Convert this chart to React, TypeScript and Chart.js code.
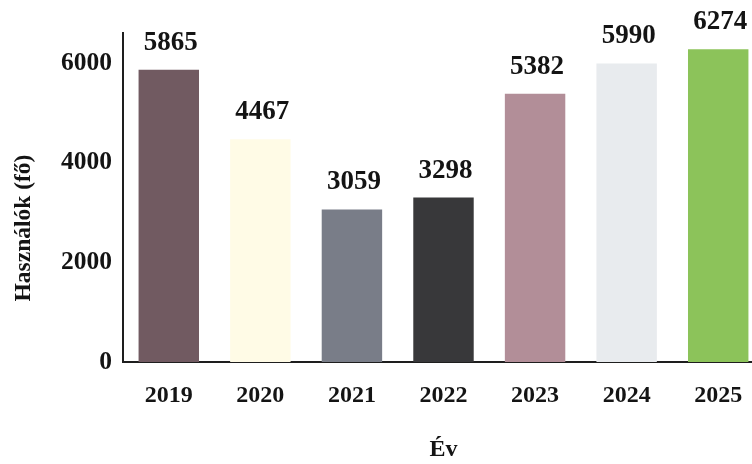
import React, { useEffect, useRef } from "react";
import { Chart, registerables } from "chart.js";

Chart.register(...registerables);

const years = ["2019", "2020", "2021", "2022", "2023", "2024", "2025"];
const users = [5865, 4467, 3059, 3298, 5382, 5990, 6274];
const barColors = ["#715a61", "#fffbe6", "#797d88", "#38383a", "#b28e98", "#e8ebee", "#8cc35a"];
const yTickValues = [0, 2000, 4000, 6000];
const yAxisTitle = "Használók (fő)";
const xAxisTitle = "Év";

const FONT = '"Liberation Serif", "Times New Roman", serif';

const valueLabels = {
  id: "valueLabels",
  afterDatasetsDraw(chart: any) {
    const ctx = chart.ctx;
    const meta = chart.getDatasetMeta(0);
    ctx.save();
    ctx.font = `bold 27px ${FONT}`;
    ctx.fillStyle = "#141414";
    ctx.textAlign = "center";
    ctx.textBaseline = "middle";
    meta.data.forEach((bar: any, i: number) => {
      ctx.fillText(String(users[i]), bar.x + 2, bar.y - 27);
    });
    ctx.restore();
  },
};

const yTitlePlugin = {
  id: "yTitlePlugin",
  afterDraw(chart: any) {
    const ctx = chart.ctx;
    const area = chart.chartArea;
    ctx.save();
    ctx.translate(24, area.bottom - 134);
    ctx.rotate(-Math.PI / 2);
    ctx.font = `bold 23.5px ${FONT}`;
    ctx.fillStyle = "#141414";
    ctx.textAlign = "center";
    ctx.textBaseline = "middle";
    ctx.fillText(yAxisTitle, 0, 0);
    ctx.restore();
  },
};

export default function App() {
  const canvasRef = useRef<HTMLCanvasElement | null>(null);

  useEffect(() => {
    if (!canvasRef.current) return;
    const chart = new Chart(canvasRef.current, {
      type: "bar",
      data: {
        labels: years,
        datasets: [
          {
            data: users,
            backgroundColor: barColors,
            borderWidth: 0,
            barPercentage: 0.66,
            categoryPercentage: 1,
          },
        ],
      },
      options: {
        responsive: false,
        animation: false,
        layout: { padding: { top: 33, left: 0, right: 0, bottom: 0 } },
        plugins: {
          legend: { display: false },
          tooltip: { enabled: false },
          title: { display: false },
        },
        scales: {
          x: {
            grid: { display: false, drawTicks: false },
            border: { display: true, color: "#1e1e1e", width: 2 },
            ticks: {
              color: "#141414",
              padding: 19,
              font: { family: FONT, size: 24, weight: "bold" },
            },
            title: {
              display: true,
              text: xAxisTitle,
              color: "#141414",
              padding: { top: 0, bottom: 0 },
              font: { family: FONT, size: 24, weight: "bold" },
            },
            afterFit(scale: any) {
              scale.height = 102;
            },
          },
          y: {
            min: 0,
            max: 6600,
            grid: { display: false, drawTicks: false },
            border: { display: true, color: "#1e1e1e", width: 2 },
            ticks: {
              color: "#141414",
              padding: 11,
              font: { family: FONT, size: 25.5, weight: "bold" },
              callback: (v: any) => String(v),
            },
            afterBuildTicks(scale: any) {
              scale.ticks = yTickValues.map((v) => ({ value: v }));
            },
            afterFit(scale: any) {
              scale.width = 123;
            },
          },
        },
      },
      plugins: [valueLabels, yTitlePlugin],
    });
    return () => chart.destroy();
  }, []);

  return (
    <div
      style={{
        position: "absolute",
        left: 0,
        top: 0,
        width: 752,
        height: 464,
        overflow: "hidden",
        background: "#ffffff",
      }}
    >
      <canvas ref={canvasRef} width={764} height={464} style={{ display: "block" }} />
    </div>
  );
}
